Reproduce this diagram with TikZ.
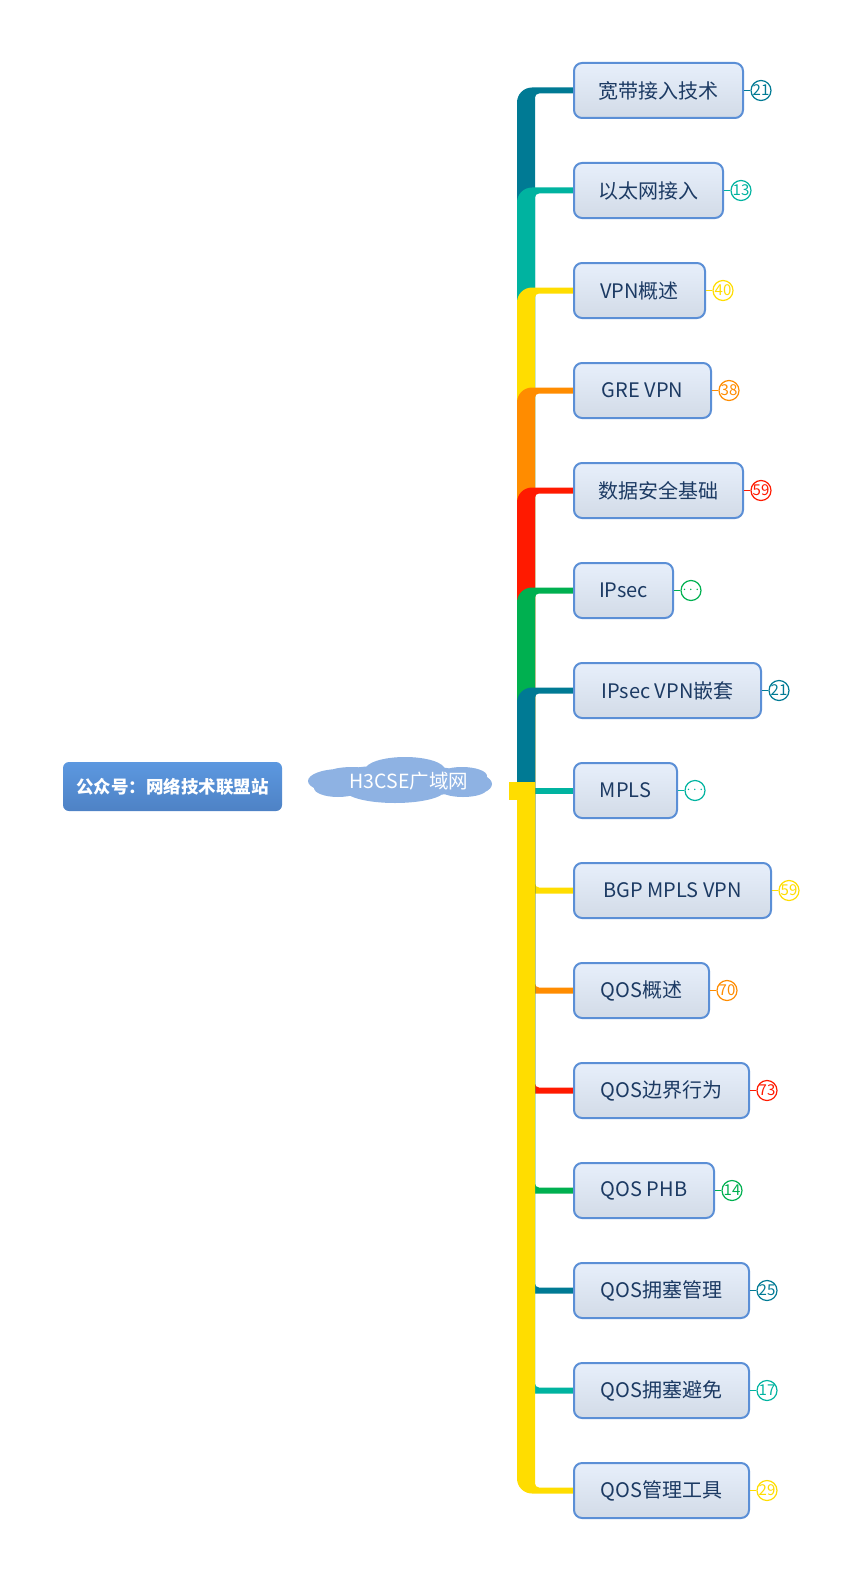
\documentclass[tikz,border=0pt]{standalone}
\usepackage{fontspec}
\setmainfont{Noto Sans CJK SC}
\usetikzlibrary{backgrounds}
\definecolor{dteal}{HTML}{007A94}
\definecolor{tealc}{HTML}{00B3A0}
\definecolor{yel}{HTML}{FFDD00}
\definecolor{orng}{HTML}{FF8C00}
\definecolor{rd}{HTML}{FF1A00}
\definecolor{grn}{HTML}{00B050}
\definecolor{boxline}{HTML}{5B8FD6}
\definecolor{boxtop}{HTML}{E7EFFB}
\definecolor{boxbot}{HTML}{D2DBE7}
\definecolor{boxtext}{HTML}{1C3A63}
\definecolor{gzhtop}{HTML}{5C98E0}
\definecolor{gzhbot}{HTML}{4E82C5}
\definecolor{cloudc}{HTML}{8EB2E3}
\tikzset{
  topic/.style={draw=boxline, line width=2pt, rounded corners=8pt, top color=boxtop, bottom color=boxbot,
    minimum height=55pt, inner sep=0pt, text=boxtext, font=\fontsize{20pt}{24pt}\selectfont},
  badge/.style={circle, draw=#1, text=#1, fill=white, line width=1.2pt, minimum size=20pt, inner sep=0pt,
    font=\fontsize{15pt}{16pt}\selectfont},
  gzhbox/.style={rounded corners=6pt, top color=gzhtop, bottom color=gzhbot, minimum width=219pt,
    minimum height=49pt, text=white, font=\bfseries\fontsize{17.5pt}{20pt}\selectfont},
}

\begin{document}
\begin{tikzpicture}[x=1pt,y=-1pt]
    \useasboundingbox (0,0) rectangle (860,1581);
    \node[gzhbox] (gzh) at (172.5,786.5) {公众号：网络技术联盟站};
    % cloud
    \fill[cloudc] (400,781) ellipse [x radius=80, y radius=16]
      (340,781) ellipse [x radius=32, y radius=12]
      (352,774) ellipse [x radius=26, y radius=7]
      (405,770) ellipse [x radius=40, y radius=13]
      (462,776) ellipse [x radius=25, y radius=9]
      (465,784) ellipse [x radius=27, y radius=12]
      (395,790) ellipse [x radius=50, y radius=13]
      (338,788) ellipse [x radius=24, y radius=9]
      (463,789) ellipse [x radius=24, y radius=8];
    \node[text=white, font=\fontsize{19.5pt}{22pt}\selectfont] (wan) at (409,781) {H3CSE广域网};
    \coordinate (hub) at (526,782);
    % topics
    \foreach \i/\t/\r/\n/\c in {1/宽带接入技术/742/21/dteal, 2/以太网接入/722/13/tealc, 3/VPN概述/704/40/yel,
      4/GRE VPN/710/38/orng, 5/数据安全基础/742/59/rd, 6/IPsec/672/$\cdots$/grn,
      7/IPsec VPN嵌套/760/21/dteal, 8/MPLS/676/$\cdots$/tealc, 9/BGP MPLS VPN/770/59/yel,
      10/QOS概述/708/70/orng, 11/QOS边界行为/748/73/rd, 12/QOS PHB/713/14/grn,
      13/QOS拥塞管理/748/25/dteal, 14/QOS拥塞避免/748/17/tealc, 15/QOS管理工具/748/29/yel}
    {
    \pgfmathsetmacro\y{90.5+100*(\i-1)}
    \pgfmathsetmacro\w{\r-573}
    \node[topic, minimum width=\w pt, anchor=west] (b\i) at (573,\y) {\t};
    \node[badge=\c] (n\i) at ([xshift=17pt]b\i.east) {\n};
    \draw[\c, line width=1.2pt] (b\i.east) -- (n\i.west);
    \begin{pgfonlayer}{background}
    \ifnum\i<8
    \fill[\c] ([xshift=-9pt]hub) -- (517,\y+12) arc[start angle=180,end angle=270,radius=15]
      -- ([yshift=3pt]b\i.west) -- ([yshift=-3pt]b\i.west) -- (539,\y+3)
      arc[start angle=270,end angle=180,radius=4] -- ([xshift=9pt]hub) -- cycle;
    \else\ifnum\i=8
    \fill[\c] (530,\y-3) rectangle ([yshift=-3pt]b\i.west);
    \else
    \fill[\c] ([xshift=-9pt]hub) -- (517,\y-12) arc[start angle=180,end angle=90,radius=15]
      -- ([yshift=-3pt]b\i.west) -- ([yshift=3pt]b\i.west) -- (539,\y-3)
      arc[start angle=90,end angle=180,radius=4] -- ([xshift=9pt]hub) -- cycle;
    \fi\fi
    \end{pgfonlayer}
    }
    \begin{pgfonlayer}{background}
    \fill[yel] (509,782) rectangle (535,800);
    \end{pgfonlayer}
\end{tikzpicture}
\end{document}
